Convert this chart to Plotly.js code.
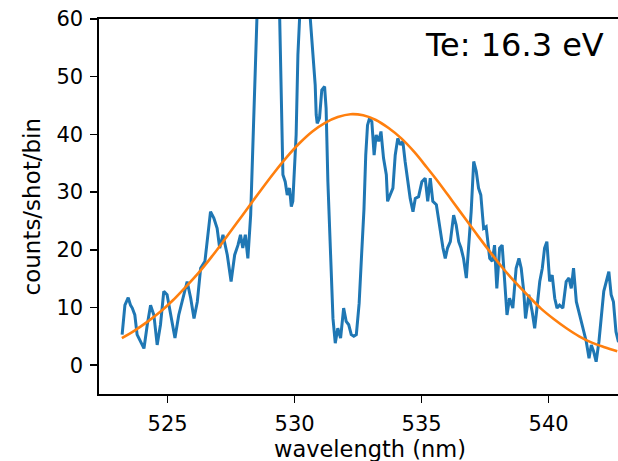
<!DOCTYPE html>
<html>
<head>
<meta charset="utf-8">
<script src="https://cdn.plot.ly/plotly-3.0.1.min.js"></script>
<style>html,body{margin:0;padding:0;background:#fff;overflow:hidden}#chart{width:618px;height:461px}</style>
</head>
<body>
<div id="chart"></div>
<script>
// Measured spectrum (blue)
const wavelength = [523.21,523.32,523.45,523.54,523.61,523.71,523.80,523.94,524.07,524.20,524.33,524.46,524.59,524.72,524.85,524.98,525.12,525.29,525.44,525.64,525.77,525.91,526.04,526.17,526.30,526.47,526.60,526.69,526.82,526.95,527.05,527.18,527.35,527.50,527.64,527.77,527.87,527.96,528.06,528.16,528.27,528.36,528.45,528.53,528.70,528.90,529.10,529.30,529.41,529.47,529.54,529.63,529.71,529.80,529.87,529.93,530.00,530.06,530.13,530.20,530.30,530.45,530.59,530.72,530.81,530.85,530.89,530.98,531.07,531.18,531.24,531.31,531.42,531.51,531.60,531.70,531.81,531.93,532.03,532.13,532.23,532.33,532.43,532.54,532.64,532.73,532.80,532.87,532.95,533.04,533.13,533.21,533.31,533.40,533.50,533.61,533.66,533.76,533.87,533.96,534.06,534.16,534.26,534.35,534.45,534.55,534.66,534.75,534.88,535.01,535.14,535.24,535.34,535.44,535.58,535.71,535.84,535.93,536.02,536.13,536.26,536.36,536.46,536.55,536.65,536.76,536.85,536.95,537.05,537.15,537.24,537.33,537.44,537.54,537.68,537.78,537.87,537.96,538.07,538.17,538.27,538.36,538.46,538.59,538.72,538.83,538.92,539.02,539.09,539.22,539.35,539.45,539.54,539.65,539.75,539.84,539.93,540.04,540.14,540.24,540.33,540.43,540.56,540.69,540.80,540.89,540.98,541.09,541.22,541.35,541.48,541.59,541.68,541.77,541.87,541.98,542.07,542.17,542.27,542.37,542.46,542.55,542.65,542.75];
const counts = [5.3,10.4,11.7,10.4,9.9,8.7,5.3,4.1,2.9,7.0,10.4,8.7,3.5,7.0,12.8,12.2,8.7,4.7,8.7,12.2,14.5,11.6,8.1,11.0,16.8,18.0,23.7,26.6,25.5,23.7,20.3,22.6,19.1,14.5,19.1,20.8,22.6,20.3,22.6,18.5,26.0,37.6,52.0,62,78,85,80,70,60.7,49.2,33.0,31.8,29.5,30.7,27.5,28.4,36.4,39.9,53.8,61,70,70,61,53.8,48.6,43.4,41.9,42.8,47.7,48.3,44.5,31.8,17.4,8.1,3.8,6.4,4.7,9.9,7.6,7.0,5.3,5.0,5.3,10.7,19.4,27,36.4,41.6,42.8,42.2,36.4,39.9,38.8,40.5,35.9,33.0,28.4,29.5,30.7,36.4,39.3,38.2,38.8,35.3,31.8,28.9,26.6,28.9,29.2,31.8,32.4,28.4,32.4,28.4,27.8,23.7,20.3,18.5,20.3,21.4,26.0,24.3,21.4,20.3,18.5,15.1,20.3,26.6,35.3,33.6,30.7,29.5,23.7,24.0,18.5,18.0,20.8,13.3,20.3,20.8,14.5,8.7,11.6,9.9,16.8,18.5,16.8,12.8,8.1,12.2,9.3,6.4,9.9,14.5,16.8,20.3,21.4,14.5,15.6,11.6,9.9,10.4,9.9,14.5,15.1,13.3,16.8,11.0,8.7,6.4,4.1,1.2,3.5,2.4,0.6,4.1,8.7,12.8,14.5,16.2,12.2,11.0,5.8,4.0];

// Fitted curve (orange)
const fitWavelength = [523.2,523.7,524.2,524.7,525.2,525.7,526.2,526.7,527.2,527.7,528.2,528.7,529.2,529.7,530.2,530.7,531.2,531.7,532.2,532.7,533.2,533.7,534.2,534.7,535.2,535.7,536.2,536.7,537.2,537.7,538.2,538.7,539.2,539.7,540.2,540.7,541.2,541.7,542.2,542.7];
const fitCounts = [4.7,6.0,7.5,9.2,11.2,13.5,15.9,18.6,21.5,24.5,27.5,30.5,33.4,36.1,38.5,40.5,42.0,43.0,43.5,43.3,42.5,41.1,39.3,37.0,34.3,31.5,28.5,25.5,22.5,19.6,16.8,14.3,12.0,9.8,8.0,6.4,5.0,3.9,3.1,2.4];

const xTicks = [525, 530, 535, 540];
const yTicks = [0, 10, 20, 30, 40, 50, 60];
const xTitle = 'wavelength (nm)';
const yTitle = 'counts/shot/bin';
const tempLabel = 'Te: 16.3 eV';

const FONT = 'DejaVu Sans, Liberation Sans, sans-serif';

const traces = [
  {x: wavelength, y: counts, type: 'scatter', mode: 'lines',
   line: {color: '#1f77b4', width: 3}, hoverinfo: 'skip'},
  {x: fitWavelength, y: fitCounts, type: 'scatter', mode: 'lines',
   line: {color: '#ff7f0e', width: 2.6, shape: 'spline', smoothing: 1}, hoverinfo: 'skip'}
];

const layout = {
  width: 618, height: 461,
  margin: {l: 99, r: 0, t: 19, b: 67, pad: 0},
  paper_bgcolor: '#fff', plot_bgcolor: '#fff',
  showlegend: false,
  font: {family: FONT, color: '#000', size: 21},
  xaxis: {
    range: [522.30, 542.73], tickvals: xTicks, ticktext: xTicks.map(String),
    ticks: 'outside', ticklen: 7, tickwidth: 1.6, tickcolor: '#000',
    ticklabelstandoff: 3,
    showline: true, linecolor: '#000', linewidth: 1.6, mirror: true,
    showgrid: false, zeroline: false,
    tickfont: {family: FONT, size: 21, color: '#000'}
  },
  yaxis: {
    range: [-5, 60], tickvals: yTicks, ticktext: yTicks.map(String),
    ticks: 'outside', ticklen: 7, tickwidth: 1.6, tickcolor: '#000',
    ticklabelstandoff: 3,
    showline: true, linecolor: '#000', linewidth: 1.6, mirror: false,
    showgrid: false, zeroline: false,
    tickfont: {family: FONT, size: 21, color: '#000'}
  },
  annotations: [
    {text: xTitle, xref: 'paper', yref: 'paper', x: 0.523, y: -0.147,
     xanchor: 'center', yanchor: 'middle', showarrow: false,
     font: {family: FONT, size: 22.5, color: '#000'}},
    {text: yTitle, xref: 'paper', yref: 'paper', x: -0.131, y: 0.5, textangle: -90,
     xanchor: 'center', yanchor: 'middle', showarrow: false,
     font: {family: FONT, size: 23, color: '#000'}},
    {text: tempLabel, xref: 'paper', yref: 'paper', x: 0.977, y: 0.931,
     xanchor: 'right', yanchor: 'middle', showarrow: false,
     font: {family: FONT, size: 32, color: '#000'}}
  ]
};

Plotly.newPlot('chart', traces, layout, {staticPlot: true, displayModeBar: false});
</script>
</body>
</html>
